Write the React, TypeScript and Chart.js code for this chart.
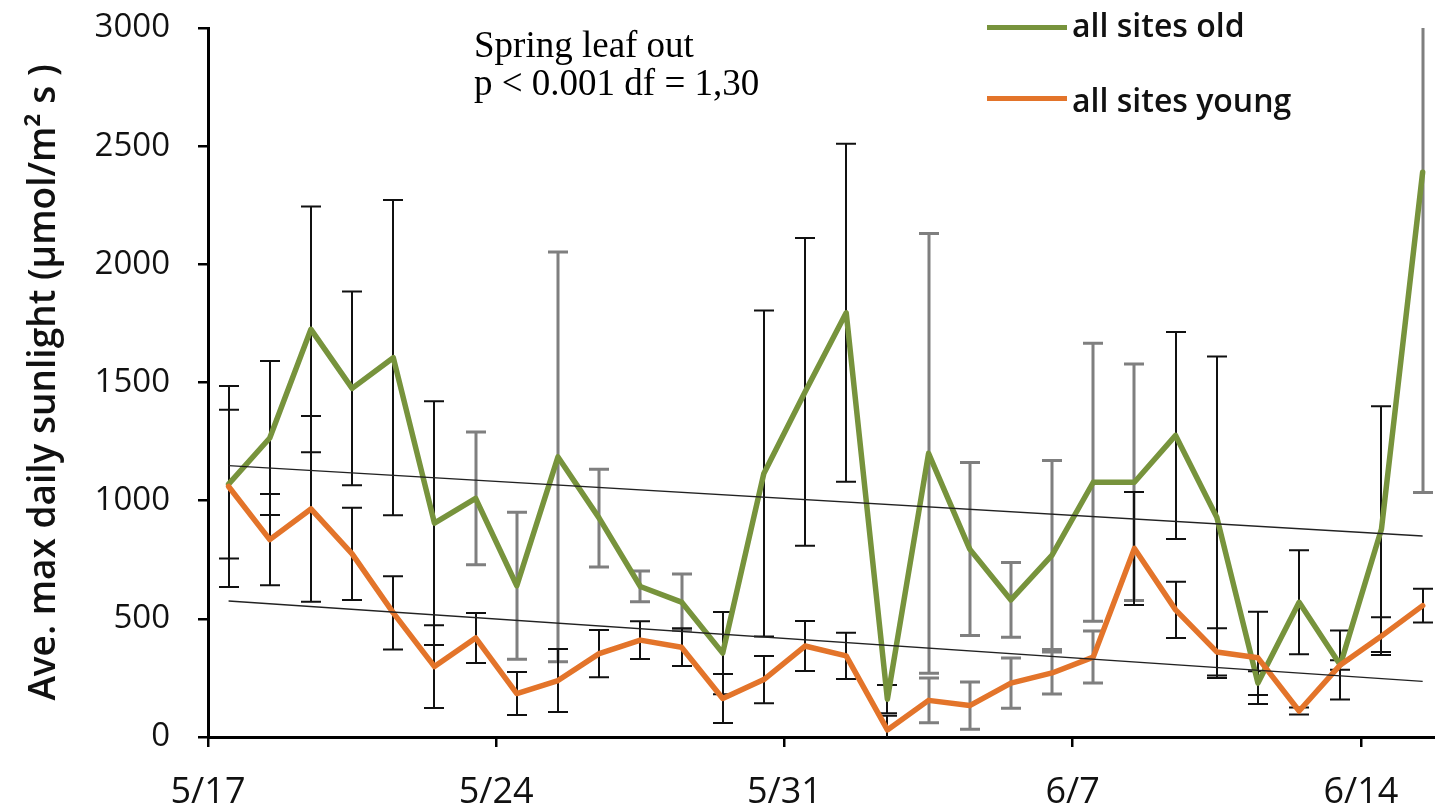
import React, { useEffect, useRef } from "react";
import { Chart, registerables } from "chart.js";

Chart.register(...registerables);

// Daily sampling window, one category per day
const days = [
  "5/17", "5/18", "5/19", "5/20", "5/21", "5/22", "5/23", "5/24", "5/25", "5/26",
  "5/27", "5/28", "5/29", "5/30", "5/31", "6/1", "6/2", "6/3", "6/4", "6/5",
  "6/6", "6/7", "6/8", "6/9", "6/10", "6/11", "6/12", "6/13", "6/14", "6/15",
];
const dateTicks = ["5/17", "5/24", "5/31", "6/7", "6/14"];
const valueTicks = [0, 500, 1000, 1500, 2000, 2500, 3000];

// Ave. max daily sunlight, µmol/m² s
const oldSites = [
  1070, 1265, 1725, 1475, 1605, 905, 1010, 640, 1185, 926,
  637, 571, 355, 1115, 1460, 1795, 160, 1200, 795, 580,
  770, 1078, 1078, 1276, 930, 228, 570, 305, 880, 2390,
];
const oldSitesErr = [
  315, 326, 520, 410, 667, 516, 281, 311, 867, 207,
  65, 119, 174, 690, 651, 715, 60, 930, 366, 158,
  400, 588, 500, 438, 680, 50, 220, 146, 520, 1355,
];
const youngSites = [
  1060, 835, 965, 775, 525, 298, 419, 184, 239, 353,
  410, 380, 163, 243, 385, 343, 30, 155, 133, 228,
  271, 338, 798, 538, 360, 335, 110, 305, 427, 556,
];
const youngSitesErr = [
  425, 193, 393, 195, 155, 175, 106, 91, 133, 100,
  80, 80, 104, 100, 106, 98, 60, 95, 100, 106,
  89, 110, 239, 119, 100, 195, 15, 20, 80, 71,
];

// Days whose error bars are drawn in grey rather than black
const oldGreyBarDays = ["5/23", "5/24", "5/25", "5/26", "5/27", "5/28", "6/3", "6/4", "6/5", "6/6", "6/7", "6/8", "6/15"];
const youngGreyBarDays = ["6/3", "6/4", "6/5", "6/6", "6/7"];

const OLD_COLOR = "#77933C";
const YOUNG_COLOR = "#E3742A";
const SANS = "'Open Sans', 'DejaVu Sans', sans-serif";

// each day is plotted in the middle of its one-day band
const dayCenter = (d: string) => days.indexOf(d) + 0.5;
const xs = days.map(dayCenter);

function regression(values: number[]) {
  const n = values.length;
  const mx = xs.reduce((a, b) => a + b, 0) / n;
  const my = values.reduce((a, b) => a + b, 0) / n;
  let sxy = 0;
  let sxx = 0;
  for (let i = 0; i < n; i++) {
    sxy += (xs[i] - mx) * (values[i] - my);
    sxx += (xs[i] - mx) * (xs[i] - mx);
  }
  const slope = sxy / sxx;
  const first = xs[0];
  const last = xs[n - 1];
  return [
    { x: first, y: my + slope * (first - mx) },
    { x: last, y: my + slope * (last - mx) },
  ];
}

type BarSeries = { values: number[]; errs: number[]; grey: string[] };

const errorBarPlugin = {
  id: "errorBars",
  beforeDatasetsDraw(chart: any) {
    const { ctx, chartArea, scales } = chart;
    const x = scales.x;
    const y = scales.y;
    const yMax = y.max;
    const yMin = y.min;
    const series: BarSeries[] = [
      { values: oldSites, errs: oldSitesErr, grey: oldGreyBarDays },
      { values: youngSites, errs: youngSitesErr, grey: youngGreyBarDays },
    ];
    ctx.save();
    ctx.beginPath();
    ctx.rect(chartArea.left, chartArea.top - 2, chartArea.right - chartArea.left, chartArea.bottom - chartArea.top + 2);
    ctx.clip();
    const capHalf = 10;
    series.forEach((s) => {
      s.values.forEach((v, i) => {
        const isGrey = s.grey.includes(days[i]);
        ctx.strokeStyle = isGrey ? "#7f7f7f" : "#111111";
        ctx.lineWidth = isGrey ? 3 : 2;
        const px = Math.round(x.getPixelForValue(xs[i]));
        const hi = v + s.errs[i];
        const lo = v - s.errs[i];
        const pTop = y.getPixelForValue(Math.min(hi, yMax));
        const pBot = y.getPixelForValue(Math.max(lo, yMin));
        ctx.beginPath();
        ctx.moveTo(px, pTop);
        ctx.lineTo(px, pBot);
        if (hi <= yMax) {
          ctx.moveTo(px - capHalf, pTop);
          ctx.lineTo(px + capHalf, pTop);
        }
        if (lo >= yMin) {
          ctx.moveTo(px - capHalf, pBot);
          ctx.lineTo(px + capHalf, pBot);
        }
        ctx.stroke();
      });
    });
    ctx.restore();
  },
};

export default function App() {
  const canvasRef = useRef<HTMLCanvasElement | null>(null);

  useEffect(() => {
    const canvas = canvasRef.current;
    if (!canvas) return;
    const chart = new Chart(canvas, {
      type: "line",
      data: {
        datasets: [
          {
            label: "old trend",
            data: regression(oldSites),
            borderColor: "#222222",
            borderWidth: 1.4,
            pointRadius: 0,
            order: 0,
          },
          {
            label: "young trend",
            data: regression(youngSites),
            borderColor: "#222222",
            borderWidth: 1.4,
            pointRadius: 0,
            order: 0,
          },
          {
            label: "all sites young",
            data: youngSites.map((v, i) => ({ x: xs[i], y: v })),
            borderColor: YOUNG_COLOR,
            borderWidth: 5.5,
            borderJoinStyle: "round",
            borderCapStyle: "round",
            pointRadius: 0,
            order: 1,
          },
          {
            label: "all sites old",
            data: oldSites.map((v, i) => ({ x: xs[i], y: v })),
            borderColor: OLD_COLOR,
            borderWidth: 5.5,
            borderJoinStyle: "round",
            borderCapStyle: "round",
            pointRadius: 0,
            order: 2,
          },
        ],
      },
      options: {
        responsive: false,
        animation: false,
        events: [],
        layout: { padding: { top: 28, left: 0, right: 0, bottom: 0 } },
        plugins: {
          legend: { display: false },
          tooltip: { enabled: false },
        },
        scales: {
          x: {
            type: "linear",
            min: 0,
            max: 29.8,
            afterBuildTicks: (scale: any) => {
              scale.ticks = dateTicks.map((d) => ({ value: days.indexOf(d) }));
            },
            afterFit: (scale: any) => {
              scale.height = 68;
            },
            ticks: {
              autoSkip: false,
              maxRotation: 0,
              padding: 24,
              color: "#111",
              font: { family: SANS, size: 36 },
              callback: (value: any) => days[Math.round(Number(value))],
            },
            grid: {
              drawOnChartArea: false,
              drawTicks: true,
              tickLength: 10,
              color: "#000",
              lineWidth: 2.5,
            },
            border: { display: true, color: "#000", width: 3 },
          },
          y: {
            min: 0,
            max: 3000,
            afterBuildTicks: (scale: any) => {
              scale.ticks = valueTicks.map((v) => ({ value: v }));
            },
            afterFit: (scale: any) => {
              scale.width = 208;
              scale.paddingTop = 10;
              scale.paddingBottom = 10;
            },
            ticks: {
              padding: 28,
              color: "#111",
              font: { family: SANS, size: 33 },
              callback: (value: any) => String(value),
            },
            grid: {
              drawOnChartArea: false,
              drawTicks: true,
              tickLength: 10,
              color: "#000",
              lineWidth: 2.5,
            },
            border: { display: true, color: "#000", width: 3 },
            title: {
              display: true,
              text: "Ave. max daily sunlight (µmol/m² s )",
              color: "#111",
              font: { family: SANS, size: 37, weight: "600" },
              padding: { top: 22, bottom: 0 },
            },
          },
        },
      },
      plugins: [errorBarPlugin],
    });
    return () => chart.destroy();
  }, []);

  const legendText: React.CSSProperties = {
    position: "absolute",
    left: 1072,
    fontFamily: SANS,
    fontWeight: 600,
    fontSize: 32,
    lineHeight: "32px",
    color: "#111",
    whiteSpace: "nowrap",
  };
  const legendLine: React.CSSProperties = {
    position: "absolute",
    left: 987,
    width: 80,
    height: 5,
  };
  const noteText: React.CSSProperties = {
    position: "absolute",
    left: 474,
    fontFamily: "'Liberation Serif', 'Times New Roman', serif",
    fontSize: 37,
    lineHeight: "37px",
    color: "#000",
    whiteSpace: "nowrap",
  };

  return (
    <div style={{ position: "absolute", left: 0, top: 0, width: 1435, height: 805, background: "#fff", overflow: "hidden" }}>
      <canvas ref={canvasRef} width={1435} height={805} style={{ position: "absolute", left: 0, top: 0 }} />
      <div style={{ ...noteText, top: 26 }}>Spring leaf out</div>
      <div style={{ ...noteText, top: 64 }}>p &lt; 0.001 df = 1,30</div>
      <div style={{ ...legendLine, top: 25, background: OLD_COLOR }} />
      <div style={{ ...legendText, top: 9 }}>all sites old</div>
      <div style={{ ...legendLine, top: 96, background: YOUNG_COLOR }} />
      <div style={{ ...legendText, top: 84 }}>all sites young</div>
    </div>
  );
}
